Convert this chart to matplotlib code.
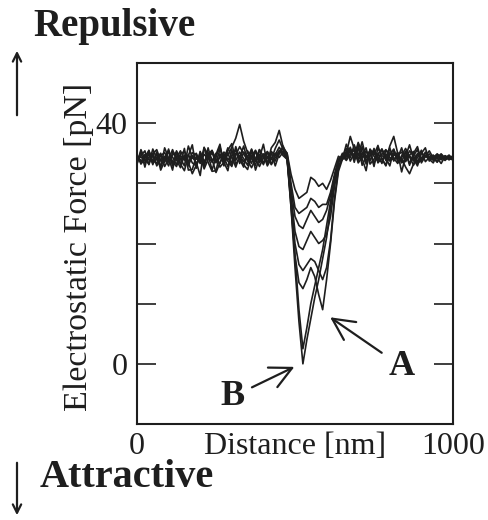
import matplotlib
matplotlib.use("Agg")
import matplotlib.pyplot as plt

plt.rcParams['font.family'] = ['Liberation Serif', 'DejaVu Serif']

# Distance samples [nm]
distance = [0, 12.5, 25, 37.5, 50, 62.5, 75, 87.5, 100, 112.5, 125, 137.5, 150, 162.5,
            175, 187.5, 200, 212.5, 225, 237.5, 250, 262.5, 275, 287.5, 300, 312.5, 325,
            337.5, 350, 362.5, 375, 387.5, 400, 412.5, 425, 437.5, 450, 462.5, 475, 487.5,
            500, 512.5, 525, 537.5, 550, 562.5, 575, 587.5, 600, 612.5, 625, 637.5, 650,
            662.5, 675, 687.5, 700, 712.5, 725, 737.5, 750, 762.5, 775, 787.5, 800, 812.5,
            825, 837.5, 850, 862.5, 875, 887.5, 900, 912.5, 925, 937.5, 950, 962.5, 975,
            987.5, 1000]

# Electrostatic force traces [pN]
trace1 = [34.2, 33.5, 34.8, 33.9, 34.5, 33.2, 34.6, 35.1, 33.8, 34.4, 33.1, 34.9, 35.3, 33.7,
          34.2, 35.0, 33.6, 34.8, 34.1, 35.4, 34.0, 33.3, 35.2, 34.6, 36.0, 37.5, 39.8, 37.0,
          35.1, 34.3, 35.5, 33.9, 34.7, 35.2, 34.0, 35.8, 37.2, 35.6,
          35.0, 31.5, 29.0, 27.5, 28.0, 28.5, 31.0, 30.5, 29.5, 30.0, 29.0, 30.5, 32.5, 34.5, 34.0,
          36.5, 34.9, 35.5, 34.2, 35.0, 33.8, 34.6, 35.3, 34.1, 34.8, 35.6, 34.3, 33.9, 34.7,
          35.2, 34.0, 34.6, 33.7, 34.9, 34.2, 35.0, 34.4, 33.9, 34.6, 34.1, 34.5, 34.0, 34.3]
trace2 = [33.2, 35.3, 32.7, 35.4, 33.5, 35.0, 32.2, 33.7, 35.7, 32.9, 35.1, 33.2, 32.1, 34.6,
          36.4, 32.5, 35.3, 33.0, 35.9, 33.5, 34.8, 36.5, 32.9, 35.1, 33.2, 36.1, 34.0, 32.7,
          35.4, 34.1, 33.0, 35.6, 34.5, 33.3, 35.9, 36.8, 38.8, 36.0,
          35.0, 30.0, 26.0, 25.0, 25.5, 26.0, 27.5, 27.0, 26.0, 26.5, 26.5, 28.5, 31.5, 34.0, 34.5,
          35.0, 37.8, 35.7, 33.8, 36.1, 33.2, 35.6, 34.5, 33.7, 35.7, 33.8, 36.2, 37.8, 35.0,
          33.5, 35.3, 33.0, 35.0, 36.1, 33.7, 34.5, 35.4, 34.2, 33.5, 34.5, 33.9, 34.4, 34.1]
trace3 = [34.8, 33.2, 34.1, 35.5, 33.6, 34.2, 35.0, 32.8, 34.0, 35.6, 33.9, 32.6, 34.7, 33.5,
          31.6, 33.0, 34.6, 32.9, 35.1, 34.0, 31.8, 33.4, 34.9, 33.7, 32.8, 35.0, 34.4, 33.1,
          32.3, 34.6, 35.3, 33.4, 34.9, 32.9, 34.1, 35.0, 34.3, 35.2,
          34.5, 29.0, 24.5, 23.0, 22.5, 24.0, 25.5, 24.5, 23.5, 24.0, 25.5, 28.0, 31.0, 33.5, 35.0,
          34.0, 35.8, 34.4, 36.8, 35.1, 33.5, 34.6, 35.6, 33.4, 34.2, 32.9, 34.8, 35.7, 33.6,
          34.1, 32.7, 31.6, 33.2, 34.9, 33.8, 35.2, 34.0, 33.4, 34.8, 33.9, 34.6, 34.2, 34.5]
trace4 = [33.9, 34.6, 35.4, 33.1, 34.9, 35.6, 33.7, 34.3, 32.9, 35.1, 34.4, 33.2, 35.8, 32.2,
          32.3, 34.5, 33.3, 36.0, 33.5, 32.0, 32.1, 34.9, 33.2, 35.5, 36.6, 33.8, 35.2, 34.1,
          33.0, 35.7, 33.6, 34.8, 33.1, 35.3, 34.0, 33.7, 35.5, 34.6,
          34.0, 28.0, 22.0, 19.5, 19.0, 20.5, 22.0, 21.0, 20.0, 20.5, 21.5, 24.5, 29.5, 33.0, 34.0,
          35.3, 34.3, 36.4, 34.6, 36.9, 34.2, 35.5, 33.3, 34.9, 35.7, 34.4, 33.7, 35.0, 34.2,
          35.9, 33.6, 34.7, 35.3, 33.5, 35.1, 34.4, 34.9, 33.8, 34.3, 34.9, 34.2, 34.7, 34.0]
trace5 = [34.5, 33.8, 33.4, 34.9, 33.3, 34.0, 34.8, 33.5, 35.4, 33.6, 32.8, 34.6, 33.9, 34.8,
          33.4, 32.9, 35.2, 33.7, 34.3, 33.6, 35.0, 32.7, 33.5, 34.2, 33.1, 34.7, 36.1, 34.9,
          33.8, 32.6, 34.0, 35.6, 33.3, 34.5, 33.2, 34.8, 36.0, 35.0,
          34.0, 27.0, 20.0, 16.5, 15.5, 16.5, 17.5, 17.0, 15.5, 14.0, 16.0, 20.5, 27.5, 32.5, 34.5,
          35.8, 33.7, 35.0, 33.9, 34.8, 35.9, 33.2, 34.0, 34.9, 33.3, 35.5, 35.0, 34.2, 33.3,
          34.6, 35.8, 34.4, 33.0, 34.3, 35.5, 33.6, 34.3, 34.7, 33.6, 34.8, 34.0, 34.4, 33.8]
trace6 = [33.3, 35.6, 34.0, 33.2, 35.7, 34.1, 32.7, 35.9, 34.2, 32.2, 35.4, 34.1, 32.9, 36.2,
          34.3, 33.5, 31.3, 35.9, 34.8, 32.2, 34.4, 36.1, 33.5, 32.1, 35.6, 33.2, 34.2, 36.2,
          33.7, 35.3, 32.2, 34.2, 36.5, 33.2, 35.1, 32.9, 34.9, 36.2,
          34.5, 26.0, 18.0, 13.5, 12.5, 14.0, 16.0, 14.5, 11.5, 9.0, 14.0, 20.0, 27.0, 32.0, 34.0,
          34.5, 36.0, 33.5, 35.9, 34.1, 32.1, 35.7, 34.7, 36.3, 34.0, 33.0, 35.9, 33.7, 35.1,
          31.9, 34.5, 36.4, 34.1, 32.9, 35.0, 35.9, 33.7, 34.6, 34.2, 33.3, 34.5, 34.1, 34.6]
trace7 = [34.0, 34.4, 33.7, 34.3, 35.0, 32.9, 34.0, 34.5, 33.5, 34.7, 35.2, 33.9, 34.3, 33.4,
          35.1, 34.7, 33.9, 33.4, 34.8, 35.5, 33.6, 34.3, 34.0, 35.9, 34.4, 32.7, 34.6, 33.6,
          34.5, 33.3, 35.4, 33.8, 33.4, 34.2, 35.3, 34.6, 35.3, 35.8,
          34.0, 26.0, 16.0, 7.0, 0.0, 4.0, 7.5, 11.0, 14.0, 17.5, 21.0, 26.0, 30.0, 33.5, 34.5,
          33.8, 34.9, 35.6, 33.4, 34.3, 35.4, 33.7, 35.8, 34.1, 33.5, 34.9, 33.9, 34.6, 35.1,
          33.4, 34.0, 35.4, 34.6, 33.2, 34.0, 34.6, 33.9, 34.3, 34.9, 34.3, 33.8, 34.5, 34.2]
trace8 = [34.6, 33.5, 34.5, 35.3, 33.1, 35.2, 32.8, 34.2, 35.4, 33.1, 34.2, 35.4, 34.0, 32.9,
          34.6, 34.0, 34.5, 32.4, 34.0, 35.1, 33.4, 35.6, 34.3, 32.8, 34.5, 35.6, 33.3, 35.2,
          34.4, 35.6, 34.1, 32.8, 34.2, 35.2, 33.1, 34.3, 35.0, 35.4,
          34.5, 27.0, 18.0, 9.0, 2.5, 6.0, 10.0, 13.0, 16.0, 19.0, 23.0, 27.0, 31.0, 34.0, 34.0,
          34.8, 35.5, 34.0, 36.5, 33.0, 34.4, 35.3, 32.8, 35.9, 34.6, 34.2, 32.9, 35.6, 34.0,
          34.3, 35.2, 33.3, 34.6, 35.6, 33.4, 34.5, 34.2, 34.0, 34.7, 34.1, 34.4, 33.9, 34.3]
traces = [trace1, trace2, trace3, trace4, trace5, trace6, trace7, trace8]

y_ticks = [0, 10, 20, 30, 40]
y_tick_labels = ['0', '', '', '', '40']
x_ticks = [0, 1000]
x_tick_labels = ['0', '1000']

ink = '#1e1e1e'
W, H = 489, 520
fig = plt.figure(figsize=(W / 100, H / 100), dpi=100)
ax = fig.add_axes([137 / W, 1 - 424 / H, 316 / W, 361 / H])

for tr in traces:
    ax.plot(distance, tr, color=ink, lw=1.2)

ax.set_xlim(0, 1000)
ax.set_ylim(-10, 50)
ax.set_yticks(y_ticks)
ax.set_yticklabels(y_tick_labels)
ax.set_xticks(x_ticks)
ax.set_xticklabels(x_tick_labels)
ax.tick_params(axis='y', direction='in', length=14, width=1.2, left=True, right=True,
               labelsize=23, pad=7, colors=ink)
ax.tick_params(axis='x', length=0, labelsize=23, pad=6, colors=ink)
for s in ax.spines.values():
    s.set_linewidth(1.5)
    s.set_color(ink)

ax.annotate('Distance [nm]', xy=(500, 0), xycoords=('data', 'axes fraction'),
            xytext=(0, -6), textcoords='offset points', ha='center', va='top',
            fontsize=23, color=ink)

fig.text(79 / W, 1 - 247 / H, 'Electrostatic Force [pN]', rotation=90,
         ha='center', va='center', fontsize=24.5, color=ink)

fig.text(33 / W, 1 - 36 / H, 'Repulsive', fontsize=28, fontweight='bold',
         ha='left', va='baseline', color=ink)
fig.text(40 / W, 1 - 487 / H, 'Attractive', fontsize=29, fontweight='bold',
         ha='left', va='baseline', color=ink)

fig.patches.append(matplotlib.patches.FancyArrowPatch(
    (17 / W, 1 - 118 / H), (17 / W, 1 - 48 / H), transform=fig.transFigure,
    arrowstyle='->,head_length=6,head_width=3', lw=1.6, color=ink))
fig.patches.append(matplotlib.patches.FancyArrowPatch(
    (17 / W, 1 - 460 / H), (17 / W, 1 - 518 / H), transform=fig.transFigure,
    arrowstyle='->,head_length=6,head_width=3', lw=1.6, color=ink))

ax.annotate('A', xy=(604, 8.0), xytext=(839, -0.5), ha='center', va='center',
            fontsize=26, fontweight='bold', color=ink,
            arrowprops=dict(arrowstyle='->,head_length=0.6,head_width=0.3', lw=1.6, color=ink,
                            shrinkA=4, shrinkB=2))
ax.annotate('B', xy=(506, -0.3), xytext=(301, -5.5), ha='center', va='center',
            fontsize=26, fontweight='bold', color=ink,
            arrowprops=dict(arrowstyle='->,head_length=0.6,head_width=0.3', lw=1.6, color=ink,
                            shrinkA=4, shrinkB=2))

fig.savefig('out.png', dpi=100)
